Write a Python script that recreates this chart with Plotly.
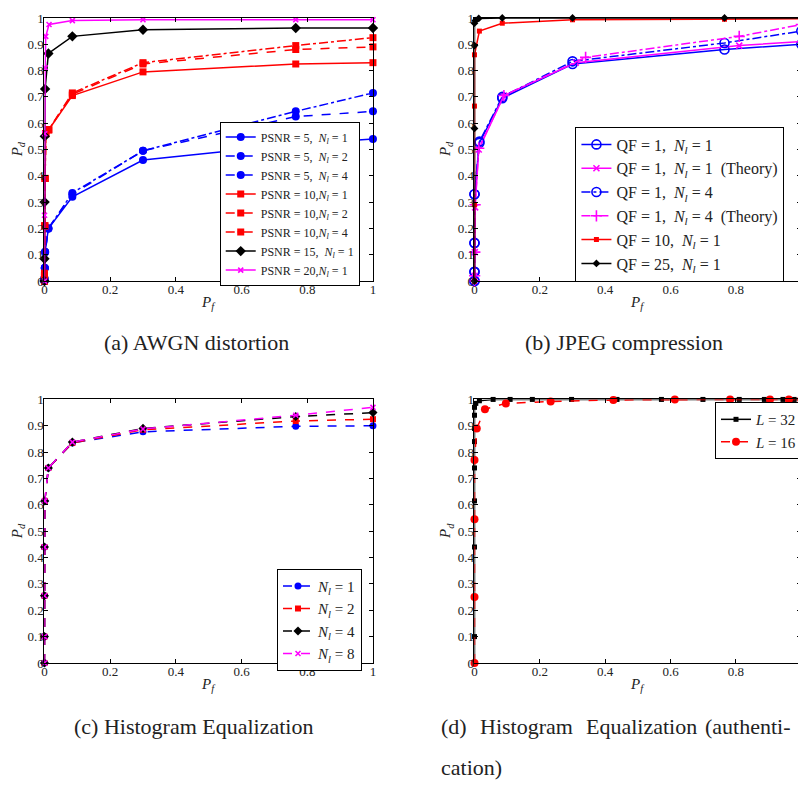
import plotly.graph_objects as go

# ---------------- data ----------------
# (a) AWGN distortion
a_blue_x = [0, 0, 0.001, 0.002, 0.012, 0.085, 0.30, 0.765, 1.0]
a_psnr5_nl1 = [0, 0.01, 0.05, 0.11, 0.20, 0.32, 0.46, 0.52, 0.54]
a_psnr5_nl2 = [0, 0.01, 0.05, 0.11, 0.20, 0.33, 0.495, 0.625, 0.645]
a_psnr5_nl4 = [0, 0.01, 0.05, 0.11, 0.20, 0.335, 0.495, 0.645, 0.715]
a_red_x = [0, 0, 0.001, 0.002, 0.004, 0.013, 0.085, 0.30, 0.765, 1.0]
a_psnr10_nl1 = [0, 0.02, 0.21, 0.39, 0.56, 0.575, 0.705, 0.795, 0.825, 0.83]
a_psnr10_nl2 = [0, 0.02, 0.21, 0.39, 0.56, 0.575, 0.71, 0.825, 0.88, 0.89]
a_psnr10_nl4 = [0, 0.03, 0.21, 0.39, 0.56, 0.575, 0.715, 0.83, 0.895, 0.925]
a_black_x = [0, 0, 0.0005, 0.001, 0.002, 0.012, 0.085, 0.30, 0.765, 1.0]
a_psnr15_nl1 = [0, 0.085, 0.30, 0.55, 0.73, 0.865, 0.93, 0.955, 0.962, 0.962]
a_mag_x = [0, 0.0003, 0.001, 0.002, 0.004, 0.014, 0.085, 0.30, 0.765, 1.0]
a_psnr20_nl1 = [0, 0.25, 0.56, 0.81, 0.93, 0.975, 0.99, 0.993, 0.993, 0.993]

# (b) JPEG compression
b_qf1_x = [0, 0, 0, 0, 0.015, 0.085, 0.30, 0.765, 1.0]
b_qf1_nl1 = [0, 0.035, 0.145, 0.33, 0.525, 0.695, 0.825, 0.88, 0.90]
b_qf1_nl4 = [0, 0.035, 0.145, 0.33, 0.53, 0.70, 0.835, 0.905, 0.95]
b_th1_x = [0, 0.0005, 0.001, 0.002, 0.013, 0.09, 0.31, 0.81, 1.0]
b_qf1_nl1_th = [0, 0.02, 0.11, 0.28, 0.50, 0.705, 0.83, 0.895, 0.91]
b_th4_x = [0, 0.0005, 0.001, 0.002, 0.013, 0.09, 0.34, 0.81, 1.0]
b_qf1_nl4_th = [0, 0.02, 0.11, 0.29, 0.505, 0.705, 0.85, 0.93, 0.975]
b_qf10_x = [0, 0, 0, 0, 0.015, 0.085, 0.30, 0.765, 1.0]
b_qf10_nl1 = [0, 0.29, 0.665, 0.86, 0.95, 0.98, 0.993, 0.995, 0.997]
b_qf25_x = [0, 0, 0, 0, 0.003, 0.013, 0.085, 0.30, 0.765, 1.0]
b_qf25_nl1 = [0, 0.58, 0.895, 0.98, 0.99, 0.998, 1.0, 1.0, 1.0, 1.0]

# (c) Histogram equalization
c_x = [0, 0, 0, 0, 0.001, 0.012, 0.085, 0.30, 0.765, 1.0]
c_nl1 = [0, 0.10, 0.255, 0.44, 0.615, 0.74, 0.835, 0.877, 0.898, 0.90]
c_nl2 = [0, 0.10, 0.255, 0.44, 0.615, 0.74, 0.835, 0.885, 0.918, 0.925]
c_nl4 = [0, 0.10, 0.255, 0.44, 0.615, 0.74, 0.838, 0.89, 0.935, 0.95]
c_nl8 = [0, 0.10, 0.255, 0.44, 0.615, 0.74, 0.838, 0.888, 0.94, 0.97]

# (d) Histogram equalization (authentication)
d_l32_x = [0, 0, 0, 0, 0, 0, 0, 0, 0, 0, 0.004, 0.015, 0.057, 0.109, 0.177,
           0.297, 0.436, 0.572, 0.699, 0.81, 0.887, 0.944, 0.978, 1.0]
d_l32_y = [0, 0.10, 0.25, 0.44, 0.615, 0.74, 0.84, 0.89, 0.94, 0.97, 0.985, 0.995,
           1, 1, 1, 1, 1, 1, 1, 1, 1, 1, 1, 1]
d_l16_x = [0, 0, 0, 0, 0.007, 0.032, 0.096, 0.233, 0.425, 0.613, 0.782, 0.904, 0.962, 1.0]
d_l16_y = [0, 0.25, 0.545, 0.77, 0.89, 0.963, 0.985, 0.992, 0.998, 1, 1, 1, 1, 1]

x_ticks = [0, 0.2, 0.4, 0.6, 0.8, 1]
y_ticks = [0, 0.1, 0.2, 0.3, 0.4, 0.5, 0.6, 0.7, 0.8, 0.9, 1]
x_ticklabels = ["0", "0.2", "0.4", "0.6", "0.8", "1"]
y_ticklabels = ["0", "0.1", "0.2", "0.3", "0.4", "0.5", "0.6", "0.7", "0.8", "0.9", "1"]

captions = ["(a) AWGN distortion", "(b) JPEG compression", "(c) Histogram Equalization"]
caption_d_words = ["(d)", "Histogram", "Equalization", "(authenti-"]
caption_d_line2 = "cation)"

BLUE, RED, BLACK, MAG = "#0000FF", "#FF0000", "#000000", "#FF00FF"
NL = "<i>N<sub>l</sub></i>"
SP = "\u00a0"
FONT = "'Liberation Serif', 'Times New Roman', 'DejaVu Serif', serif"
TXT = "#222222"

fig = go.Figure()


def add(x, y, name, color, dash, symbol, size, ax, leg, open_=False, lw=1.5):
    mk = dict(symbol=symbol, size=size, color=color)
    if symbol.endswith("-thin") or open_:
        mk["line"] = dict(color=color, width=1.6)
    fig.add_trace(go.Scatter(
        x=x, y=y, name=name, mode="lines+markers",
        line=dict(color=color, dash=dash, width=lw), marker=mk,
        xaxis="x" + ("" if ax == 1 else str(ax)),
        yaxis="y" + ("" if ax == 1 else str(ax)),
        legend="legend" + ("" if leg == 1 else str(leg)),
        cliponaxis=False))


# (a)
add(a_blue_x, a_psnr5_nl1, "PSNR = 5," + SP * 2 + NL + " = 1", BLUE, "solid", "circle", 8, 1, 1)
add(a_blue_x, a_psnr5_nl2, "PSNR = 5," + SP * 2 + NL + " = 2", BLUE, "dash", "circle", 8, 1, 1)
add(a_blue_x, a_psnr5_nl4, "PSNR = 5," + SP * 2 + NL + " = 4", BLUE, "dashdot", "circle", 8, 1, 1)
add(a_red_x, a_psnr10_nl1, "PSNR = 10," + NL + " = 1", RED, "solid", "square", 7, 1, 1)
add(a_red_x, a_psnr10_nl2, "PSNR = 10," + NL + " = 2", RED, "dash", "square", 7, 1, 1)
add(a_red_x, a_psnr10_nl4, "PSNR = 10," + NL + " = 4", RED, "dashdot", "square", 7, 1, 1)
add(a_black_x, a_psnr15_nl1, "PSNR = 15," + SP * 2 + NL + " = 1", BLACK, "solid", "diamond", 8, 1, 1)
add(a_mag_x, a_psnr20_nl1, "PSNR = 20," + NL + " = 1", MAG, "solid", "x-thin", 5, 1, 1)

# (b)
QS = SP * 2
add(b_qf1_x, b_qf1_nl1, "QF = 1," + QS + NL + " = 1", BLUE, "solid", "circle-open", 9, 2, 2, open_=True)
add(b_th1_x, b_qf1_nl1_th, "QF = 1," + QS + NL + " = 1" + QS + "(Theory)", MAG, "solid", "x-thin", 6, 2, 2)
add(b_qf1_x, b_qf1_nl4, "QF = 1," + QS + NL + " = 4", BLUE, "dashdot", "circle-open", 9, 2, 2, open_=True)
add(b_th4_x, b_qf1_nl4_th, "QF = 1," + QS + NL + " = 4" + QS + "(Theory)", MAG, "dashdot", "cross-thin", 8, 2, 2)
add(b_qf10_x, b_qf10_nl1, "QF = 10," + QS + NL + " = 1", RED, "solid", "square", 5, 2, 2)
add(b_qf25_x, b_qf25_nl1, "QF = 25," + QS + NL + " = 1", BLACK, "solid", "diamond", 6, 2, 2)

# (c)
add(c_x, c_nl1, NL + " = 1", BLUE, "dash", "circle", 7, 3, 3)
add(c_x, c_nl2, NL + " = 2", RED, "dash", "square", 6, 3, 3)
add(c_x, c_nl4, NL + " = 4", BLACK, "dash", "diamond", 7, 3, 3)
add(c_x, c_nl8, NL + " = 8", MAG, "dash", "x-thin", 5, 3, 3)

# (d)
add(d_l32_x, d_l32_y, "<i>L</i> = 32", BLACK, "solid", "square", 5, 4, 4)
add(d_l16_x, d_l16_y, "<i>L</i> = 16", RED, "dash", "circle", 8, 4, 4)

# page has an 8px body margin: the figure sits at (8, 8) in the window
OFF = 8
W, H = 798, 777


def px(v):
    return (v - OFF) / W


def py(v):
    return 1 - (v - OFF) / H


XA = [41.7, 372.7]
XB = [475.0, 804.3]
YTOP = [279.3, 11.0]
YBOT = [668.7, 400.0]


def axis_common():
    return dict(range=[0, 1], ticks="inside", ticklen=4,
                showline=True, linecolor="black", linewidth=1, mirror="ticks",
                showgrid=False, zeroline=False, tickcolor="black",
                tickfont=dict(family=FONT, size=13, color=TXT))


def xaxis(dom, anchor):
    d = axis_common()
    d.update(domain=[px(dom[0]), px(dom[1])], anchor=anchor,
             tickvals=x_ticks, ticktext=x_ticklabels, ticklabelstandoff=-4)
    return d


def yaxis(dom, anchor):
    d = axis_common()
    d.update(domain=[py(dom[0]), py(dom[1])], anchor=anchor,
             tickvals=y_ticks, ticktext=y_ticklabels, ticklabelstandoff=-3)
    return d


def legend(x, y, size, xanchor="left"):
    return dict(x=px(x), y=py(y), xanchor=xanchor, yanchor="top", xref="paper", yref="paper",
                bgcolor="white", bordercolor="black", borderwidth=1,
                font=dict(family=FONT, size=size, color=TXT),
                tracegroupgap=0, itemwidth=30)


annotations = []
for txt, cx, cy in [(captions[0], 195, 342), (captions[1], 626, 342), (captions[2], 192, 734)]:
    annotations.append(dict(text=txt, x=px(cx), y=py(cy), xref="paper", yref="paper",
                            showarrow=False, xanchor="center", yanchor="middle",
                            font=dict(family=FONT, size=22, color=TXT)))
for w, lx in zip(caption_d_words, [439, 479, 585, 705]):
    annotations.append(dict(text=w, x=px(lx), y=py(734), xref="paper", yref="paper",
                            showarrow=False, xanchor="left", yanchor="middle",
                            font=dict(family=FONT, size=22, color=TXT)))
annotations.append(dict(text=caption_d_line2, x=px(439), y=py(775), xref="paper", yref="paper",
                        showarrow=False, xanchor="left", yanchor="middle",
                        font=dict(family=FONT, size=22, color=TXT)))

pf = "<i>P<sub>f</sub></i>"
pd = "<i>P<sub>d</sub></i>"
for cx, cy in [(sum(XA) / 2, 301.7), (sum(XB) / 2, 301.7), (sum(XA) / 2, 691.5), (sum(XB) / 2, 691.5)]:
    annotations.append(dict(text=pf, x=px(cx), y=py(cy), xref="paper", yref="paper",
                            showarrow=False, xanchor="center", yanchor="middle",
                            font=dict(family=FONT, size=15, color=TXT)))
for cx, cy in [(15, 145), (447, 145), (15, 534.4), (447, 534.4)]:
    annotations.append(dict(text=pd, x=px(cx), y=py(cy), xref="paper", yref="paper",
                            showarrow=False, xanchor="center", yanchor="middle", textangle=-90,
                            font=dict(family=FONT, size=15, color=TXT)))

fig.update_layout(
    width=W, height=H, margin=dict(l=0, r=0, t=0, b=0),
    paper_bgcolor="white", plot_bgcolor="white", showlegend=True,
    font=dict(family=FONT, color=TXT),
    xaxis=xaxis(XA, "y"), yaxis=yaxis(YTOP, "x"),
    xaxis2=xaxis(XB, "y2"), yaxis2=yaxis(YTOP, "x2"),
    xaxis3=xaxis(XA, "y3"), yaxis3=yaxis(YBOT, "x3"),
    xaxis4=xaxis(XB, "y4"), yaxis4=yaxis(YBOT, "x4"),
    legend=legend(218.3, 116.7, 12),
    legend2=legend(576.7, 121.7, 16),
    legend3=legend(276, 572.7, 15),
    legend4=legend(806, 402.7, 15, xanchor="right"),
    annotations=annotations,
)

fig.write_html("out.html")
